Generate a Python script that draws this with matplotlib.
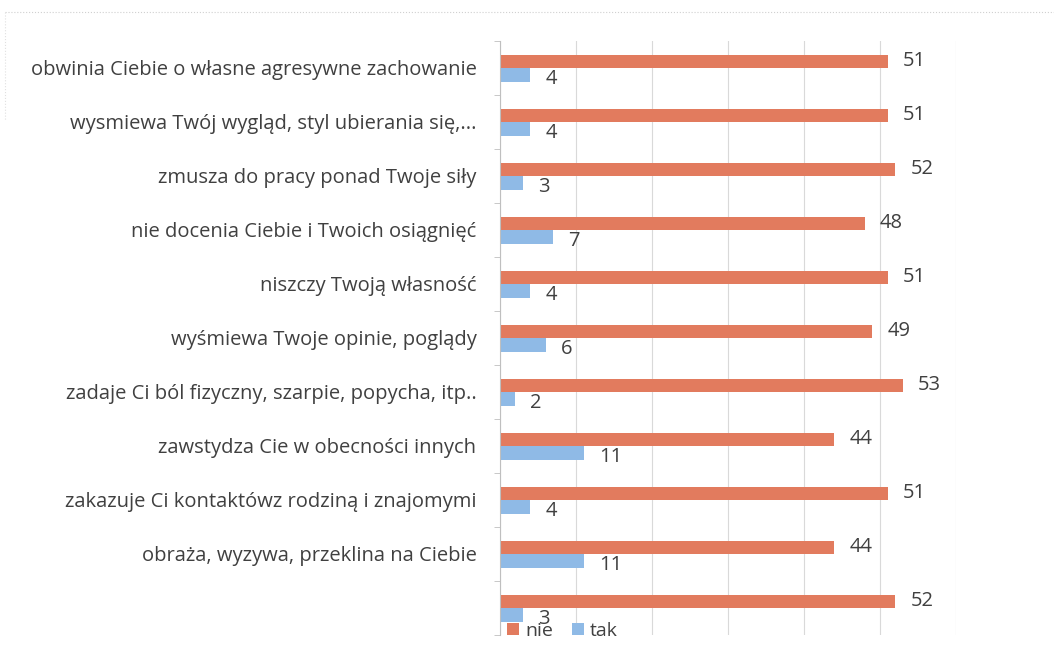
import matplotlib
matplotlib.use("Agg")
import matplotlib.pyplot as plt
import numpy as np

# categories listed top to bottom
categories = [
    "obwinia Ciebie o własne agresywne zachowanie",
    "wysmiewa Twój wygląd, styl ubierania się,...",
    "zmusza do pracy ponad Twoje siły",
    "nie docenia Ciebie i Twoich osiągnięć",
    "niszczy Twoją własność",
    "wyśmiewa Twoje opinie, poglądy",
    "zadaje Ci ból fizyczny, szarpie, popycha, itp..",
    "zawstydza Cie w obecności innych",
    "zakazuje Ci kontaktówz rodziną i znajomymi",
    "obraża, wyzywa, przeklina na Ciebie",
    "",
]
nie = [51, 51, 52, 48, 51, 49, 53, 44, 51, 44, 52]
tak = [4, 4, 3, 7, 4, 6, 2, 11, 4, 11, 3]

NIE_COLOR = "#E27B5E"
TAK_COLOR = "#8FBAE6"
TEXT_COLOR = "#404040"

plt.rcParams["font.family"] = ["Open Sans", "DejaVu Sans"]

fig = plt.figure(figsize=(10.54, 6.59), dpi=100)
ax = fig.add_axes([500 / 1054, 1 - 635 / 659, 456 / 1054, 594 / 659])

n = len(categories)
y = np.arange(n)
h = 0.25
ax.barh(y - h / 2, nie, height=h, color=NIE_COLOR, label="nie", zorder=2)
ax.barh(y + h / 2, tak, height=h, color=TAK_COLOR, label="tak", zorder=2)

for yi, v in zip(y, nie):
    ax.text(v + 2.0, yi - h / 2, str(v), va="center", ha="left",
            fontsize=14.5, color=TEXT_COLOR)
for yi, v in zip(y, tak):
    ax.text(v + 2.0, yi + h / 2 + 0.07, str(v), va="center", ha="left",
            fontsize=14.5, color=TEXT_COLOR)

ax.set_xlim(0, 60)
ax.set_ylim(n - 0.5, -0.5)
ax.set_xticks(np.arange(0, 61, 10))
ax.xaxis.grid(True, color="#d9d9d9", linewidth=0.8, zorder=0)
ax.tick_params(axis="x", length=0, labelbottom=False)

ax.set_yticks(y)
ax.set_yticklabels(categories, fontsize=14.5, color=TEXT_COLOR)
ax.set_yticks(np.arange(n + 1) - 0.5, minor=True)
ax.tick_params(axis="y", which="major", length=0, pad=17)
ax.tick_params(axis="y", which="minor", length=4, color="#bfbfbf")

for side in ["top", "right", "bottom"]:
    ax.spines[side].set_visible(False)
ax.spines["left"].set_color("#bfbfbf")
ax.spines["left"].set_linewidth(0.8)

leg = ax.legend(loc="lower left", bbox_to_anchor=(-0.005, -0.025), ncol=2,
                frameon=False, fontsize=14, handlelength=0.6, handleheight=0.6,
                handletextpad=0.3, columnspacing=1.0, borderpad=0)
for t in leg.get_texts():
    t.set_color(TEXT_COLOR)

# faint chart border
fig.add_artist(plt.Line2D([5 / 1054, 1], [1 - 12 / 659, 1 - 12 / 659],
                          color="#d0d0d0", linewidth=0.8, linestyle=":"))
fig.add_artist(plt.Line2D([5 / 1054, 5 / 1054], [1 - 12 / 659, 1 - 120 / 659],
                          color="#e0e0e0", linewidth=0.8, linestyle=":"))

fig.savefig("out.png", dpi=100, facecolor="white")
